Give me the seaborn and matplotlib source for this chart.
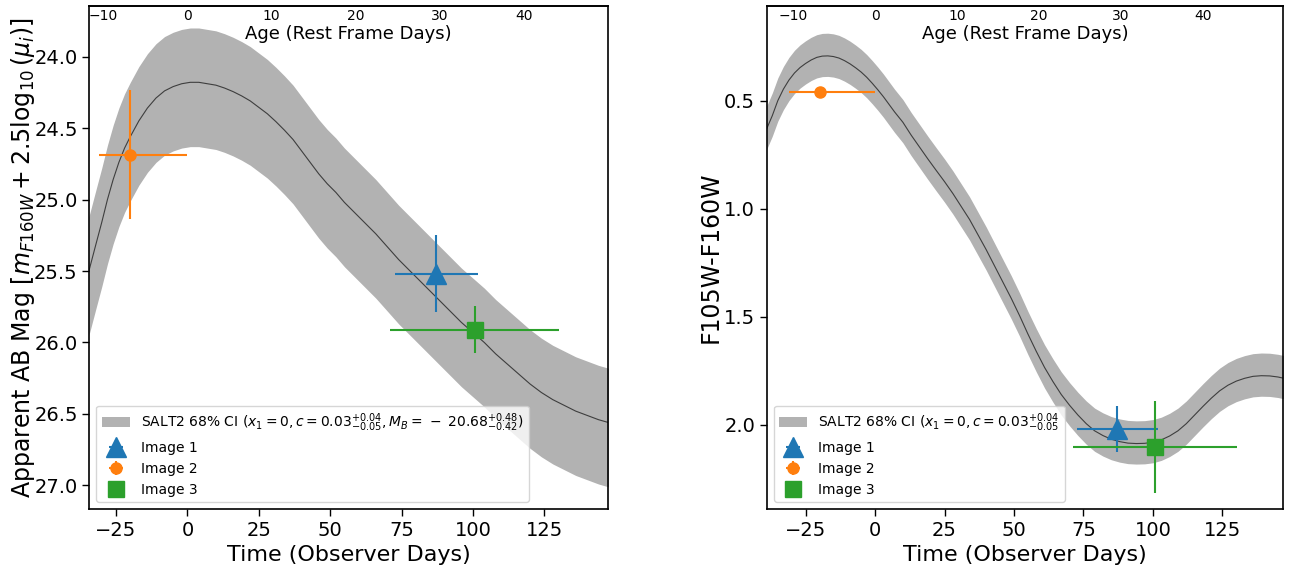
import numpy as np
import pandas as pd
import matplotlib
matplotlib.use("Agg")
import matplotlib.pyplot as plt
import seaborn as sns

# ---------------- data ----------------
# SALT2 model, F160W magnitude (observer days, mag)
mag_t = [-34.5, -32, -30, -28, -26, -24, -22, -20, -17, -14, -11, -8, -5, -2, 1, 4, 7,
         10, 13, 16, 19, 22, 25, 28, 31, 34, 37, 40, 43, 46, 49, 52, 55, 58, 62, 66, 70,
         74, 78, 82, 87, 92, 96, 100, 104, 108, 112, 116, 120, 124, 128, 132, 136, 140,
         144, 147.5]
mag_c = [25.50, 25.31, 25.16, 25.00, 24.86, 24.74, 24.64, 24.56, 24.45, 24.36, 24.29,
         24.24, 24.21, 24.19, 24.18, 24.18, 24.19, 24.20, 24.22, 24.245, 24.275, 24.31,
         24.355, 24.40, 24.455, 24.515, 24.58, 24.66, 24.74, 24.82, 24.89, 24.95, 25.02,
         25.08, 25.16, 25.24, 25.33, 25.42, 25.50, 25.58, 25.68, 25.78, 25.86, 25.93,
         26.00, 26.08, 26.15, 26.22, 26.29, 26.35, 26.40, 26.44, 26.48, 26.51, 26.54, 26.56]
mag_band_bright = 0.38
mag_band_faint = 0.45

# SALT2 model, F105W-F160W colour
col_t = [-39, -37, -35, -33, -31, -29, -27, -25, -23, -21, -19, -17, -15, -13, -11, -9,
         -7, -5, -3, -1, 1, 3, 5, 7, 10, 13, 16, 19, 22, 25, 28, 31, 34, 37, 40, 43, 46,
         49, 52, 55, 58, 61, 64, 67, 70, 73, 76, 79, 82, 85, 88, 91, 94, 97, 100, 103,
         106, 109, 112, 115, 118, 121, 124, 127, 130, 133, 136, 139, 142, 145, 147.5]
col_c = [0.63, 0.57, 0.50, 0.447, 0.405, 0.372, 0.347, 0.328, 0.312, 0.300, 0.294, 0.293,
         0.296, 0.303, 0.315, 0.330, 0.348, 0.368, 0.392, 0.42, 0.450, 0.482, 0.517,
         0.552, 0.600, 0.66, 0.715, 0.77, 0.823, 0.875, 0.93, 0.99, 1.05, 1.12, 1.19,
         1.265, 1.34, 1.415, 1.495, 1.58, 1.66, 1.735, 1.80, 1.86, 1.91, 1.955, 1.995,
         2.028, 2.05, 2.067, 2.078, 2.085, 2.087, 2.086, 2.081, 2.07, 2.052, 2.028, 1.995,
         1.955, 1.915, 1.877, 1.843, 1.817, 1.798, 1.785, 1.776, 1.773, 1.774, 1.779, 1.786]
col_band_lo = 0.105
col_band_hi = 0.095

images = ["Image 1", "Image 2", "Image 3"]
img_t = [87.2, -20.0, 100.6]
img_t_err_lo = [14.5, 10.8, 29.5]
img_t_err_hi = [14.5, 20.0, 29.5]
img_mag = [25.52, 24.685, 25.91]
img_mag_err = [0.27, 0.45, 0.165]
img_col = [2.02, 0.458, 2.103]
img_col_err = [0.107, 0.0, 0.215]

one_plus_z = 2.95
rest_ticks = [-10, 0, 10, 20, 30, 40]

mag_label = (r"SALT2 68% CI ($x_1 = 0, c = 0.03^{+0.04}_{-0.05},"
             r"M_B = \,-\;20.68^{+0.48}_{-0.42}$)")
col_label = r"SALT2 68% CI ($x_1 = 0, c = 0.03^{+0.04}_{-0.05}$"

# ---------------- style ----------------
sns.set_style("ticks")
plt.rcParams["font.family"] = ["DejaVu Sans"]
plt.rcParams["mathtext.fontset"] = "dejavusans"
for k in ["axes.edgecolor", "axes.labelcolor", "xtick.color", "ytick.color", "text.color"]:
    plt.rcParams[k] = "black"
plt.rcParams["axes.linewidth"] = 1.2

markers = ["^", "o", "s"]
msizes = [14, 8, 12]
colors = ["C0", "C1", "C2"]

fig = plt.figure(figsize=(12.91, 5.69), dpi=100)
ax1 = fig.add_axes([0.0693, 0.1054, 0.4016, 0.8841])
ax2 = fig.add_axes([0.5941, 0.1054, 0.3997, 0.8841])


def draw(ax, t, c, lo, hi, label, yvals, yerrs, xlim, ylim, ylabel, ypad):
    t = np.asarray(t)
    c = np.asarray(c)
    ax.fill_between(t, c - lo, c + hi, color="black", alpha=0.3, lw=0, label=label)
    df = pd.DataFrame({"t": t, "v": c})
    sns.lineplot(data=df, x="t", y="v", ax=ax, color="black", lw=0.8, alpha=0.65)
    for i in range(3):
        ax.errorbar([img_t[i]], [yvals[i]],
                    xerr=[[img_t_err_lo[i]], [img_t_err_hi[i]]],
                    yerr=[[yerrs[i]], [yerrs[i]]],
                    fmt=markers[i], ms=msizes[i], color=colors[i],
                    elinewidth=1.5, label=images[i])
    ax.set_xlim(*xlim)
    ax.set_ylim(*ylim)
    ax.set_xlabel("Time (Observer Days)", fontsize=16)
    ax.set_ylabel(ylabel, fontsize=17, labelpad=ypad)
    ax.tick_params(labelsize=14, direction="out", length=5, width=1)
    ax.legend(loc="lower left", fontsize=10)

    sec = ax.secondary_xaxis("top", functions=(lambda x: x / one_plus_z,
                                                lambda a: a * one_plus_z))
    sec.set_xticks(rest_ticks)
    sec.tick_params(direction="in", length=0, pad=-12, labelsize=10)
    sec.set_xlabel("Age (Rest Frame Days)", fontsize=13, labelpad=-24)


draw(ax1, mag_t, mag_c, mag_band_bright, mag_band_faint, mag_label,
     img_mag, img_mag_err, (-34.3, 147.3), (27.165, 23.646),
     r"Apparent AB Mag [$m_{F160W} + 2.5\log_{10}(\mu_i)$]", -2)
draw(ax2, col_t, col_c, col_band_lo, col_band_hi, col_label,
     img_col, img_col_err, (-38.9, 146.8), (2.39, 0.062),
     "F105W-F160W", 1)
ax2.set_yticks([0.5, 1.0, 1.5, 2.0])

fig.savefig("out.png", dpi=100)
